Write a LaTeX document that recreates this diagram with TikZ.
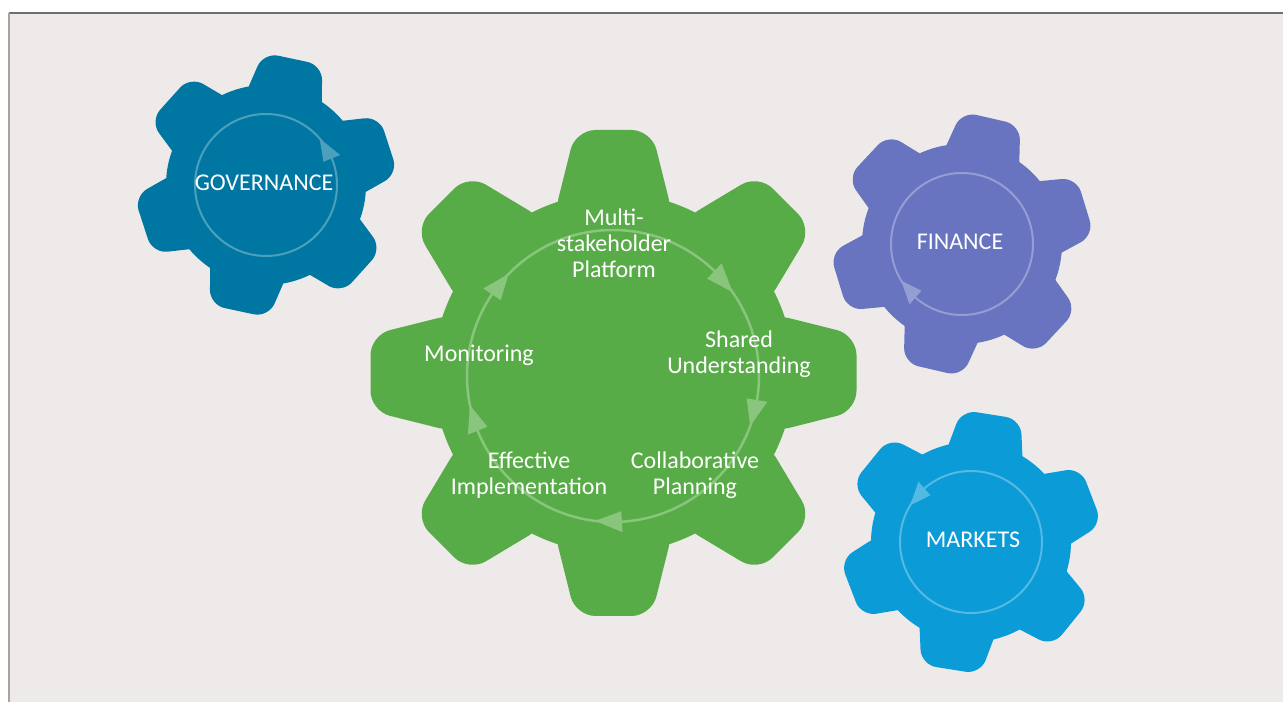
\documentclass[tikz,border=0pt]{standalone}
\usepackage{fontspec}
\setmainfont{Carlito}
\usetikzlibrary{calc}
\definecolor{bg}{HTML}{EEEAE9}
\definecolor{ggreen}{HTML}{58AC47}
\definecolor{gov}{HTML}{0077A2}
\definecolor{fin}{HTML}{6874C0}
\definecolor{mkt}{HTML}{0B9BD7}
\definecolor{topline}{HTML}{6E6E6E}
\definecolor{leftline}{HTML}{A5A5A0}
% center, N, offset, root R, tip T, inner half width, tip half width, corner radius, colour
\newcommand\mygear[9]{%
  \begin{scope}[shift={#1}]
    \fill[#9] (0,0) circle[radius=#4];
    \foreach \k in {1,...,#2}{
      \fill[#9, rounded corners=#8, rotate={#3+360/#2*\k}]
        ({#4-25},{-#6}) -- (#5,{-#7}) -- (#5,#7) -- ({#4-25},#6) -- cycle;
    }
  \end{scope}}
% center, radius, tip angle, base angle, half width, colour
\newcommand\myhead[6]{%
  \fill[#6] ($#1+(#3:#2)$) -- ($#1+(#4:{#2-#5})$) -- ($#1+(#4:{#2+#5})$) -- cycle;}
\begin{document}
\begin{tikzpicture}[x=1pt,y=1pt,
  lbl/.style={text=white,font=\fontsize{24}{26}\selectfont,align=center,inner sep=0pt},
  ring/.style={line width=#1}]
\useasboundingbox (0,0) rectangle (1283,702);
\fill[white] (0,0) rectangle (1283,702);
\fill[bg] (9,0) rectangle (1283,689);
\draw[topline,line width=1.2] (9,689) -- (1283,689);
\draw[leftline,line width=1.5] (9,0) -- (9,689);

% gears
\mygear{(266,517)}{6}{18}{100}{129}{41}{30}{15}{gov}
\mygear{(962,458)}{6}{17}{100}{129}{41}{30}{15}{fin}
\mygear{(971,160)}{6}{21}{100}{129}{41}{30}{15}{mkt}
\mygear{(613.5,329)}{8}{0}{180}{243}{60}{38}{20}{ggreen}

% rings
\draw[ring=2.5, ggreen!70!white] (613,326) circle[radius=146];
\draw[ring=2, gov!70!white] (266,517) circle[radius=71];
\draw[ring=2, fin!70!white] (962,458) circle[radius=71];
\draw[ring=2, mkt!70!white] (971,160) circle[radius=71];

% arrow heads
\myhead{(613,326)}{146}{35}{46}{10.5}{ggreen!70!white}
\myhead{(613,326)}{146}{-20}{-9.5}{10.5}{ggreen!70!white}
\myhead{(613,326)}{146}{-97}{-86.5}{10.5}{ggreen!70!white}
\myhead{(613,326)}{146}{191.5}{202}{10.5}{ggreen!70!white}
\myhead{(613,326)}{146}{135.6}{146}{10.5}{ggreen!70!white}
\myhead{(266,517)}{71}{41}{22}{9}{gov!70!white}
\myhead{(962,458)}{71}{211}{229}{9}{fin!70!white}
\myhead{(971,160)}{71}{149}{131}{9}{mkt!70!white}

% labels
\node[lbl] (gov) at (264,519) {GOVERNANCE};
\node[lbl] (fin) at (960,460) {FINANCE};
\node[lbl] (mkt) at (973,162) {MARKETS};
\node[lbl] (msp) at (614,459) {Multi-\\stakeholder\\Platform};
\node[lbl] (su) at (739,348) {Shared\\Understanding};
\node[lbl] (mon) at (479,347) {Monitoring};
\node[lbl] (ei) at (529,227) {Effective\\Implementation};
\node[lbl] (cp) at (695,227) {Collaborative\\Planning};
\end{tikzpicture}
\end{document}
